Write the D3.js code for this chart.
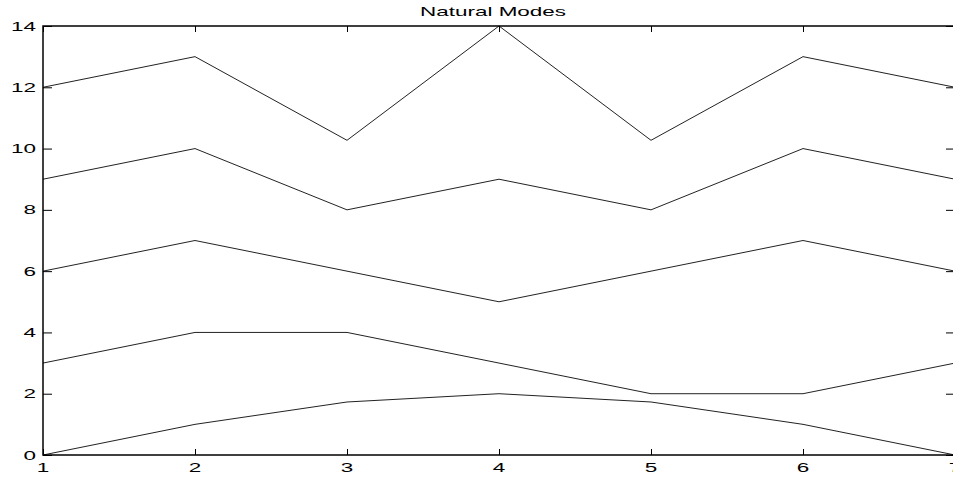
<!DOCTYPE html>
<html>
<head>
<meta charset="utf-8">
<script src="https://cdn.jsdelivr.net/npm/d3@7"></script>
<style>
  body { margin: 0; background: #fff; }
  svg { display: block; }
  text { font-family: "Liberation Sans", Arial, sans-serif; fill: #000; }
</style>
</head>
<body>
<div class="container"></div>
<script>
const title = "Natural Modes";
const masses = [1, 2, 3, 4, 5, 6, 7];
const xTicks = [1, 2, 3, 4, 5, 6, 7];
const yTicks = [0, 2, 4, 6, 8, 10, 12, 14];

// each mode shape, already shifted up by 3 per mode
const mode1 = [0, 1, 1.73, 2, 1.73, 1, 0];
const mode2 = [3, 4, 4, 3, 2, 2, 3];
const mode3 = [6, 7, 6, 5, 6, 7, 6];
const mode4 = [9, 10, 8, 9, 8, 10, 9];
const mode5 = [12, 13, 10.27, 14, 10.27, 13, 12];
const modes = [mode1, mode2, mode3, mode4, mode5];

const width = 953;
const height = 478;
const margin = {top: 26, right: -2, bottom: 23, left: 43};
const sx = 1.73; // text looks stretched sideways

const svg = d3.select("div.container")
    .append("svg")
    .attr("width", width)
    .attr("height", height);

const x = d3.scaleLinear().domain([1, 7]).range([margin.left, width - margin.right]);
const y = d3.scaleLinear().domain([0, 14]).range([height - margin.bottom, margin.top]);

const line = d3.line()
    .x(function(d, i) { return x(masses[i]); })
    .y(function(d) { return y(d); });

svg.append("g")
    .selectAll("path")
    .data(modes)
    .enter()
    .append("path")
    .attr("d", line)
    .attr("fill", "none")
    .attr("stroke", "#222")
    .attr("stroke-width", 1);

function styleAxis(g) {
    g.select(".domain").remove();
    g.selectAll("line").attr("stroke", "#000").attr("stroke-width", 1);
}

// bottom
svg.append("g")
    .attr("transform", "translate(0," + y(0) + ")")
    .call(d3.axisTop(x).tickValues(xTicks).tickSize(6).tickFormat(""))
    .call(styleAxis);
// top
svg.append("g")
    .attr("transform", "translate(0," + y(14) + ")")
    .call(d3.axisBottom(x).tickValues(xTicks).tickSize(6).tickFormat(""))
    .call(styleAxis);
// left
svg.append("g")
    .attr("transform", "translate(" + x(1) + ",0)")
    .call(d3.axisRight(y).tickValues(yTicks).tickSize(9).tickFormat(""))
    .call(styleAxis);
// right
svg.append("g")
    .attr("transform", "translate(" + x(7) + ",0)")
    .call(d3.axisLeft(y).tickValues(yTicks).tickSize(9).tickFormat(""))
    .call(styleAxis);

// box
svg.append("rect")
    .attr("x", x(1))
    .attr("y", y(14))
    .attr("width", x(7) - x(1))
    .attr("height", y(0) - y(14))
    .attr("fill", "none")
    .attr("stroke", "#000")
    .attr("stroke-width", 1.5);

// tick labels
svg.append("g")
    .selectAll("text")
    .data(yTicks)
    .enter()
    .append("text")
    .attr("transform", function(d) { return "translate(" + (x(1) - 7) + "," + (y(d) + 4.5) + ") scale(" + sx + ",1)"; })
    .attr("text-anchor", "end")
    .attr("font-size", 13)
    .text(function(d) { return d; });

svg.append("g")
    .selectAll("text")
    .data(xTicks)
    .enter()
    .append("text")
    .attr("transform", function(d) { return "translate(" + x(d) + "," + (y(0) + 17) + ") scale(" + sx + ",1)"; })
    .attr("text-anchor", "middle")
    .attr("font-size", 13)
    .text(function(d) { return d; });

svg.append("text")
    .attr("transform", "translate(493,16) scale(" + sx + ",1)")
    .attr("text-anchor", "middle")
    .attr("font-size", 13)
    .text(title);
</script>
</body>
</html>
